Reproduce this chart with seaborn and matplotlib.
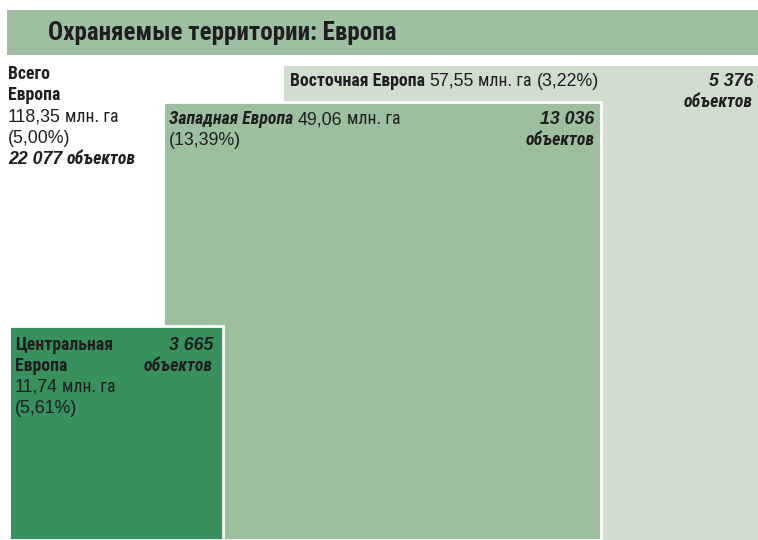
import matplotlib
matplotlib.use("Agg")
import matplotlib.pyplot as plt
import numpy as np
import seaborn as sns

sns.set_theme(style="white")
COND = ["Roboto Condensed", "Liberation Sans", "DejaVu Sans"]
REG = ["Liberation Sans", "DejaVu Sans"]
plt.rcParams["font.family"] = COND

# data
TITLE = "Охраняемые территории: Европа"
regions = ["Восточная Европа", "Западная Европа", "Центральная Европа"]
area_mha = [57.55, 49.06, 11.74]
share_pct = [3.22, 13.39, 5.61]
sites = [5376, 13036, 3665]
total_area = 118.35
total_share = 5.00
total_sites = 22077

colors = ["#d0ddcf", "#9dbf9f", "#37905d"]
INK = "#1f1f1f"
FS = 12.8

W, H = 758, 540


def ru_num(v):
    return f"{v:.2f}".replace(".", ",")


def ru_int(v):
    return f"{v:,}".replace(",", " ")


def runs(ax, x, y, parts, gap=4.5):
    """Draw text runs one after another on the same baseline."""
    renderer = ax.figure.canvas.get_renderer()
    inv = ax.transData.inverted()
    for txt, weight, style, family in parts:
        t = ax.text(x, y, txt, fontsize=FS, fontweight=weight, fontstyle=style,
                    family=family, color=INK, va="baseline", ha="left")
        bb = t.get_window_extent(renderer)
        x = inv.transform((bb.x1, bb.y0))[0] + gap


def label(ax, x, y, txt, ha="left", bold=False, italic=False, family=COND):
    ax.text(x, y, txt, fontsize=FS, fontweight="bold" if bold else "normal",
            fontstyle="italic" if italic else "normal", family=family,
            color=INK, ha=ha, va="baseline")


def amount(v):
    return [(ru_num(v), "normal", "normal", REG), ("млн. га", "normal", "normal", COND)]


def count_label(ax, x, y, n, dy=21):
    label(ax, x, y, ru_int(n), "right", True, True, family=REG)
    label(ax, x, y + dy, "объектов", "right", True, True)


fig = plt.figure(figsize=(W / 100, H / 100), dpi=100)
ax = fig.add_axes([0, 0, 1, 1])
ax.set_xlim(0, W)
ax.set_ylim(H, 0)
ax.axis("off")

# title band
ax.bar(7, 45, width=W - 7, bottom=10, align="edge", color="#9ebfa1", lw=0)
ax.text(48, 40, TITLE, fontsize=18, fontweight="bold", color=INK, va="baseline")

# squares with area proportional to protected area
scale = 474 / np.sqrt(area_mha[0])
sides = [scale * np.sqrt(a) for a in area_mha]
lefts = [W - sides[0], 163, 9]
edges = [colors[0], "white", "white"]
for left, side, c, ec in zip(lefts, sides, colors, edges):
    ax.bar(left, side, width=side, bottom=H - side, align="edge",
           color=c, edgecolor=ec, lw=2 if ec == "white" else 0)

tops = [H - s for s in sides]
rights = [l + s for l, s in zip(lefts, sides)]

# Eastern Europe
runs(ax, lefts[0] + 6, tops[0] + 20,
     [(regions[0], "bold", "normal", COND)] + amount(area_mha[0])
     + [(f"({ru_num(share_pct[0])}%)", "normal", "normal", REG)])
count_label(ax, rights[0] - 5, tops[0] + 20, sites[0])

# Western Europe
runs(ax, lefts[1] + 6, tops[1] + 22,
     [(regions[1], "bold", "italic", COND)] + amount(area_mha[1]))
label(ax, lefts[1] + 6, tops[1] + 43, f"({ru_num(share_pct[1])}%)", family=REG)
count_label(ax, rights[1] - 6, tops[1] + 22, sites[1])

# Central Europe
c_name = regions[2].split(" ")
cx, cy = lefts[2] + 6, tops[2] + 24
label(ax, cx, cy, c_name[0], bold=True)
label(ax, cx, cy + 21, c_name[1], bold=True)
runs(ax, cx, cy + 42, amount(area_mha[2]))
label(ax, cx, cy + 63, f"({ru_num(share_pct[2])}%)", family=REG)
count_label(ax, rights[2] - 10, cy, sites[2])

# total for Europe
tx, ty = 8, 79
label(ax, tx, ty, "Всего", bold=True)
label(ax, tx, ty + 21, "Европа", bold=True)
runs(ax, tx, ty + 43, amount(total_area))
label(ax, tx, ty + 64, f"({ru_num(total_share)}%)", family=REG)
runs(ax, tx, ty + 85, [(ru_int(total_sites), "bold", "italic", REG),
                       ("объектов", "bold", "italic", COND)])

fig.savefig("out.png", dpi=100)
